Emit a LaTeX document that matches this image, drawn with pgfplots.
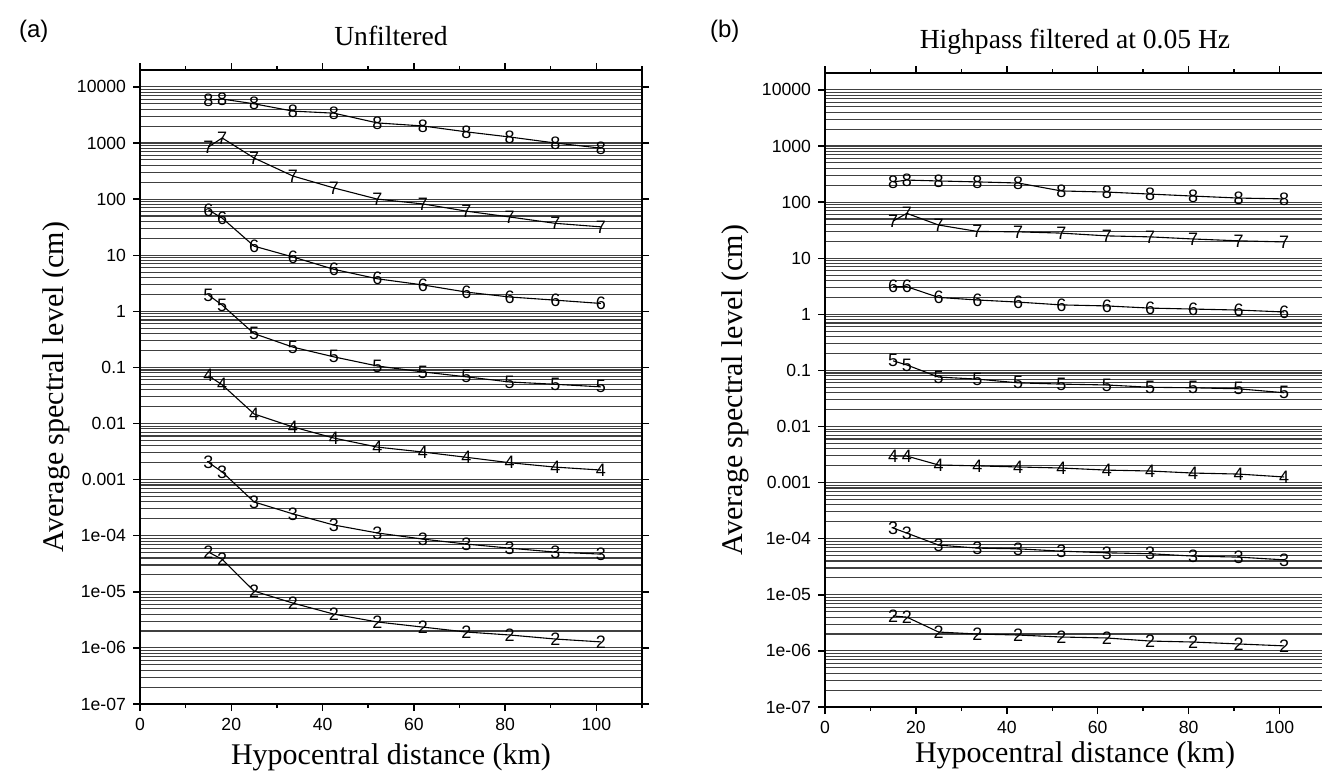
\documentclass[border=0pt]{standalone}
\usepackage{pgfplots}
\usepackage{pgfplotstable}
\pgfplotsset{compat=1.18}
\usepackage{fontspec}
\setmainfont{Liberation Sans}
\newfontfamily\serif{Liberation Serif}

% Panel (a): unfiltered
\pgfplotstableread{
x     c2       c3       c4       c5     c6    c7    c8
15    5.1e-5   0.00203  0.071    1.95   64    850   5860
18    3.8e-5   0.00137  0.049    1.29   46    1230  6070
25    1.03e-5  4.0e-4   0.0148   0.40   14.5  540   5000
33.5  6.3e-6   2.45e-4  0.0087   0.23   9.3   258   3700
42.5  4.0e-6   1.55e-4  0.0055   0.154  5.6   158   3400
52    2.9e-6   1.12e-4  0.0038   0.106  3.8   100   2280
62    2.35e-6  8.7e-5   0.0031   0.083  2.95  82    2010
71.5  1.92e-6  7.1e-5   0.0025   0.068  2.2   61    1580
81    1.70e-6  6.0e-5   0.0020   0.055  1.8   48    1280
91    1.44e-6  5.1e-5   0.00167  0.050  1.58  37    1000
101   1.28e-6  4.7e-5   0.00148  0.045  1.38  32    810
}\tabA

% Panel (b): highpass filtered at 0.05 Hz
\pgfplotstableread{
x     c2       c3       c4       c5     c6    c7    c8
15    4.2e-6   1.55e-4  0.00297  0.148  3.1   46    229
18    4.0e-6   1.26e-4  0.00297  0.125  3.1   63    247
25    2.17e-6  7.7e-5   0.00206  0.076  2.0   39    238
33.5  2.0e-6   6.8e-5   0.00199  0.070  1.8   30    229
42.5  1.92e-6  6.6e-5   0.00190  0.060  1.65  29.5  219
52    1.77e-6  6.0e-5   0.00182  0.057  1.47  28    158
62    1.70e-6  5.6e-5   0.00167  0.055  1.41  25    151
71.5  1.50e-6  5.4e-5   0.00161  0.050  1.29  24    139
81    1.44e-6  4.9e-5   0.00148  0.049  1.24  22    128
91    1.33e-6  4.7e-5   0.00142  0.047  1.19  20.4  118
101   1.23e-6  4.2e-5   0.00126  0.040  1.10  19.5  114
}\tabB

\pgfplotsset{
  /pgfplots/myspecpanel/.style={
    scale only axis,
    xmin=0, xmax=110,
    ymin=1e-7, ymax=2e4,
    axis line style={line width=1.4pt},
    tick align=outside,
    xtick={0,20,40,60,80,100},
    xticklabels={0,20,40,60,80,100},
    minor xtick={10,30,50,70,90,110},
    ytick={1e-7,1e-6,1e-5,1e-4,1e-3,1e-2,1e-1,1,10,100,1000,10000},
    yticklabels={1e-07,1e-06,1e-05,1e-04,0.001,0.01,0.1,1,10,100,1000,10000},
    minor ytick={2e-7,3e-7,4e-7,5e-7,6e-7,7e-7,8e-7,9e-7,
                 2e-6,3e-6,4e-6,5e-6,6e-6,7e-6,8e-6,9e-6,
                 2e-5,3e-5,4e-5,5e-5,6e-5,7e-5,8e-5,9e-5,
                 2e-4,3e-4,4e-4,5e-4,6e-4,7e-4,8e-4,9e-4,
                 2e-3,3e-3,4e-3,5e-3,6e-3,7e-3,8e-3,9e-3,
                 2e-2,3e-2,4e-2,5e-2,6e-2,7e-2,8e-2,9e-2,
                 0.2,0.3,0.4,0.5,0.6,0.7,0.8,0.9,
                 2,3,4,5,6,7,8,9,
                 20,30,40,50,60,70,80,90,
                 200,300,400,500,600,700,800,900,
                 2000,3000,4000,5000,6000,7000,8000,9000},
    ymajorgrids, yminorgrids,
    major grid style={black!75, line width=0.55pt},
    minor grid style={black!75, line width=0.55pt},
    major tick length=3.5pt, minor tick length=2pt,
    minor y tick style={draw=none},
    tick style={black, line width=0.7pt},
    ticklabel style={font=\fontsize{8.8}{10}\selectfont},
    xlabel={Hypocentral distance (km)},
    ylabel={Average spectral level (cm)},
    every axis title shift=0pt,
    title style={font=\serif\fontsize{13.8}{16}\selectfont},
    xlabel style={font=\serif\fontsize{15}{17}\selectfont},
    every axis y label/.style={rotate=90, anchor=south,
        font=\serif\fontsize{15}{17}\selectfont},
  },
  /pgfplots/digitline/.style={black, line width=0.55pt, mark=text,
        text mark={\fontsize{9}{10}\selectfont #1}},
}

\begin{document}
\begin{tikzpicture}
\begin{semilogyaxis}[myspecpanel, at={(70pt,-35pt)}, anchor=north west, width=251pt, height=317pt,
  title={Unfiltered},
  title style={at={(axis description cs:0.5,1.039)}, anchor=base},
  xlabel style={at={(axis description cs:0.5,-0.095)}, anchor=base},
  ylabel style={at={(axis description cs:-0.1255,0.5)}}]
\addplot[digitline=2] table[x=x, y=c2] {\tabA};
\addplot[digitline=3] table[x=x, y=c3] {\tabA};
\addplot[digitline=4] table[x=x, y=c4] {\tabA};
\addplot[digitline=5] table[x=x, y=c5] {\tabA};
\addplot[digitline=6] table[x=x, y=c6] {\tabA};
\addplot[digitline=7] table[x=x, y=c7] {\tabA};
\addplot[digitline=8] table[x=x, y=c8] {\tabA};
\end{semilogyaxis}
\begin{semilogyaxis}[myspecpanel, at={(412.5pt,-36.5pt)}, anchor=north west, width=250pt, height=317pt,
  title={Highpass filtered at 0.05 Hz},
  title style={at={(axis description cs:0.5,1.038)}, anchor=base},
  xlabel style={at={(axis description cs:0.5,-0.088)}, anchor=base},
  ylabel style={at={(axis description cs:-0.138,0.5)}}]
\addplot[digitline=2] table[x=x, y=c2] {\tabB};
\addplot[digitline=3] table[x=x, y=c3] {\tabB};
\addplot[digitline=4] table[x=x, y=c4] {\tabB};
\addplot[digitline=5] table[x=x, y=c5] {\tabB};
\addplot[digitline=6] table[x=x, y=c6] {\tabB};
\addplot[digitline=7] table[x=x, y=c7] {\tabB};
\addplot[digitline=8] table[x=x, y=c8] {\tabB};
\end{semilogyaxis}
\node[anchor=base west, font=\fontsize{12}{14}\selectfont] at (6pt,-19pt) {(a)};
\node[anchor=base west, font=\fontsize{12}{14}\selectfont] at (351.5pt,-19pt) {(b)};
\pgfresetboundingbox
\path[use as bounding box] (0,0) rectangle (661pt,-385.5pt);
\end{tikzpicture}
\end{document}
